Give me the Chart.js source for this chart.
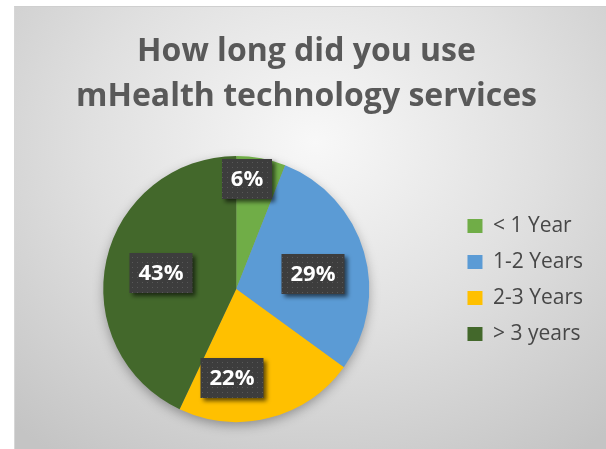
<!DOCTYPE html>
<html>
<head>
<meta charset="utf-8">
<script src="https://cdn.jsdelivr.net/npm/chart.js@4"></script>
<style>
  html, body { margin: 0; padding: 0; background: #fff; }
  #frame {
    position: absolute; left: 14px; top: 6px; width: 600px; height: 450px;
    border-top: 1px solid #cfcfcf; border-left: 1px solid #d6d6d6;
    background: radial-gradient(ellipse 75% 85% at 50% 30%, #f8f8f8 0%, #e0e0e0 50%, #c4c4c4 100%);
  }
  #myChart { position: absolute; left: 0; top: 0; }
</style>
</head>
<body>
<div id="frame"></div>
<canvas id="myChart" width="606" height="449"></canvas>
<script>
// Survey answers
const categories = ['< 1 Year', '1-2 Years', '2-3 Years', '> 3 years'];
const shares = [6, 29, 22, 43];
const sliceColors = ['#70AD47', '#5B9BD5', '#FFC000', '#43682B'];
const titleLines = ['How long did you use', 'mHealth technology services'];

// Value box placement: share of the radius, and a turn off the slice middle (deg)
const labelRadius = [0.83, 0.59, 0.67, 0.58];
const labelTurn = [-5, 5, 17, -1];

const ctx = document.getElementById('myChart').getContext('2d');

// dotted dark fill used behind the percentages
function dotPattern() {
    const c = document.createElement('canvas');
    c.width = 5;
    c.height = 5;
    const g = c.getContext('2d');
    g.fillStyle = '#3d3d3d';
    g.fillRect(0, 0, 5, 5);
    g.fillStyle = '#585858';
    g.fillRect(2, 2, 1, 1);
    return ctx.createPattern(c, 'repeat');
}
const boxFill = dotPattern();

// soft drop shadow under the whole pie
const pieShadow = {
    id: 'pieShadow',
    beforeDatasetsDraw(chart) {
        const arc = chart.getDatasetMeta(0).data[0];
        if (!arc) return;
        const p = arc.getProps(['x', 'y', 'outerRadius'], true);
        const c = chart.ctx;
        c.save();
        c.shadowColor = 'rgba(0,0,0,0.35)';
        c.shadowBlur = 12;
        c.shadowOffsetY = 4;
        c.fillStyle = '#999';
        c.beginPath();
        c.arc(p.x, p.y, p.outerRadius - 1, 0, Math.PI * 2);
        c.fill();
        c.restore();
    }
};

// percentage boxes on top of the slices
const valueBoxes = {
    id: 'valueBoxes',
    afterDatasetsDraw(chart) {
        const c = chart.ctx;
        const meta = chart.getDatasetMeta(0);
        c.save();
        c.font = 'bold 22px "Open Sans"';
        c.textAlign = 'center';
        c.textBaseline = 'middle';
        meta.data.forEach((arc, i) => {
            const p = arc.getProps(['x', 'y', 'startAngle', 'endAngle', 'outerRadius'], true);
            const a = (p.startAngle + p.endAngle) / 2 + labelTurn[i] * Math.PI / 180;
            const r = p.outerRadius * labelRadius[i];
            const cx = Math.round(p.x + Math.cos(a) * r);
            const cy = Math.round(p.y + Math.sin(a) * r);
            const text = shares[i] + '%';
            const w = Math.round(c.measureText(text).width + 18);
            const h = 40;
            c.save();
            c.shadowColor = 'rgba(0,0,0,0.6)';
            c.shadowBlur = 4;
            c.shadowOffsetX = 3;
            c.shadowOffsetY = 3;
            c.fillStyle = boxFill;
            c.fillRect(cx - w / 2, cy - h / 2, w, h);
            c.restore();
            c.fillStyle = '#fff';
            c.fillText(text, cx, cy + 1);
        });
        c.restore();
    }
};

// legend block sits a little above the pie centre
const raiseLegend = {
    id: 'raiseLegend',
    afterLayout(chart) {
        const lg = chart.legend;
        const area = chart.chartArea;
        lg.top = area.top - 9;
        lg.bottom = area.bottom - 9;
    }
};

function draw() {
    new Chart(ctx, {
        type: 'pie',
        data: {
            labels: categories,
            datasets: [{ data: shares, backgroundColor: sliceColors, borderWidth: 0 }]
        },
        options: {
            responsive: false,
            animation: false,
            layout: { padding: { left: 20, right: 13, top: 0, bottom: 27 } },
            plugins: {
                title: {
                    display: true,
                    text: titleLines,
                    color: '#595959',
                    font: { family: '"Open Sans"', size: 32, weight: 'bold', lineHeight: 1.406 },
                    padding: { top: 29, bottom: 37 }
                },
                legend: {
                    position: 'right',
                    labels: {
                        boxWidth: 15,
                        boxHeight: 14,
                        padding: 15,
                        color: '#474747',
                        font: { family: '"Open Sans"', size: 21 }
                    }
                },
                tooltip: { enabled: false }
            }
        },
        plugins: [pieShadow, valueBoxes, raiseLegend]
    });
}

document.fonts.load('bold 22px "Open Sans"').then(draw, draw);
</script>
</body>
</html>
